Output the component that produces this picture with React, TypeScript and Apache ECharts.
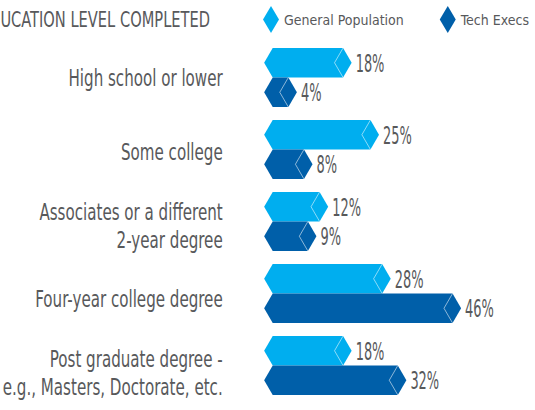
import React, { useEffect, useRef } from "react";
import * as echarts from "echarts";

const categories = [
  "High school or lower",
  "Some college",
  "Associates or a different\n2-year degree",
  "Four-year college degree",
  "Post graduate degree -\ne.g., Masters, Doctorate, etc.",
];
const generalPopulation = [18, 25, 12, 28, 18];
const techExecs = [4, 8, 9, 46, 32];
const seriesNames = ["General Population", "Tech Execs"];
const titleText = "EDUCATION LEVEL COMPLETED";

const FONT = "'DejaVu Sans Condensed', 'Liberation Sans Narrow', 'DejaVu Sans', sans-serif";
const COLORS = ["#00AEEF", "#005FA9"];
const TEXT = "#58595B";

function makeRender(which: number, color: string) {
  return (params: any, api: any) => {
    const v = api.value(0);
    const idx = api.value(1);
    const start = api.coord([0, idx]);
    const end = api.coord([v, idx]);
    const band = api.size([0, 1])[1];
    const h = band * 0.41;
    const cy = start[1];
    const top = which === 0 ? cy - h : cy;
    const bot = which === 0 ? cy : cy + h;
    const mid = (top + bot) / 2;
    const d = h * 0.29;
    const x0 = start[0];
    const x1 = end[0];
    return {
      type: "group",
      children: [
        {
          type: "polygon",
          shape: {
            points: [
              [x0 - d, mid],
              [x0, top],
              [x1, top],
              [x1 + d, mid],
              [x1, bot],
              [x0, bot],
            ],
          },
          style: { fill: color },
        },
        {
          type: "polyline",
          shape: { points: [[x1, top], [x1 - d, mid], [x1, bot]] },
          style: { stroke: "rgba(255,255,255,0.55)", lineWidth: 1, fill: null },
        },
        {
          type: "text",
          x: x1 + d + 4,
          y: mid + 1,
          scaleX: 0.6,
          style: {
            text: v + "%",
            x: 0,
            y: 0,
            align: "left",
            verticalAlign: "middle",
            fontFamily: FONT,
            fontSize: 24,
            fill: TEXT,
          },
        },
      ],
    };
  };
}

function renderCategoryLabel(params: any, api: any) {
  const idx = api.value(1);
  const p = api.coord([0, idx]);
  return {
    type: "text",
    x: p[0] - 50,
    y: p[1],
    scaleX: 0.73,
    style: {
      text: categories[idx],
      x: 0,
      y: 0,
      align: "right",
      verticalAlign: "middle",
      fontFamily: FONT,
      fontSize: 23,
      lineHeight: 28,
      fill: TEXT,
    },
  };
}

export default function App() {
  const ref = useRef<HTMLDivElement>(null);
  useEffect(() => {
    if (!ref.current) return;
    const chart = echarts.init(ref.current, undefined, { renderer: "svg" });
    const option: any = {
      animation: false,
      backgroundColor: "#ffffff",
      graphic: [
        {
          type: "text",
          x: 210,
          y: 20,
          scaleX: 0.74,
          style: {
            text: titleText,
            x: 0,
            y: 0,
            align: "right",
            verticalAlign: "middle",
            fontFamily: FONT,
            fontSize: 22,
            fill: TEXT,
          },
        },
      ],
      legend: {
        data: seriesNames,
        left: 263,
        top: 6,
        width: 300,
        padding: 0,
        icon: "diamond",
        itemWidth: 16,
        itemHeight: 27,
        itemGap: 36,
        textStyle: { fontFamily: FONT, fontSize: 14, color: TEXT },
      },
      grid: [
        { left: 272.7, top: 41.5, height: 360, width: 234.6 },
        { left: 272.7, top: 41.3, height: 375, width: 234.6 },
      ],
      xAxis: [
        { type: "value", gridIndex: 0, min: 0, max: 60, show: false },
        { type: "value", gridIndex: 1, min: 0, max: 60, show: false },
      ],
      yAxis: [
        {
          type: "category",
          gridIndex: 0,
          data: categories,
          inverse: true,
          show: false,
        },
        {
          type: "category",
          gridIndex: 1,
          data: categories,
          inverse: true,
          show: false,
        },
      ],
      series: [
        {
          name: seriesNames[0],
          type: "custom",
          xAxisIndex: 0,
          yAxisIndex: 0,
          itemStyle: { color: COLORS[0] },
          renderItem: makeRender(0, COLORS[0]),
          data: generalPopulation.map((v, i) => [v, i]),
        },
        {
          name: seriesNames[1],
          type: "custom",
          xAxisIndex: 0,
          yAxisIndex: 0,
          itemStyle: { color: COLORS[1] },
          renderItem: makeRender(1, COLORS[1]),
          data: techExecs.map((v, i) => [v, i]),
        },
        {
          name: "labels",
          type: "custom",
          xAxisIndex: 1,
          yAxisIndex: 1,
          silent: true,
          renderItem: renderCategoryLabel,
          data: categories.map((c, i) => [0, i]),
        },
      ],
    };
    chart.setOption(option);
    return () => chart.dispose();
  }, []);
  return (
    <div
      ref={ref}
      style={{ position: "fixed", left: 0, top: 0, width: 535, height: 410 }}
    />
  );
}
